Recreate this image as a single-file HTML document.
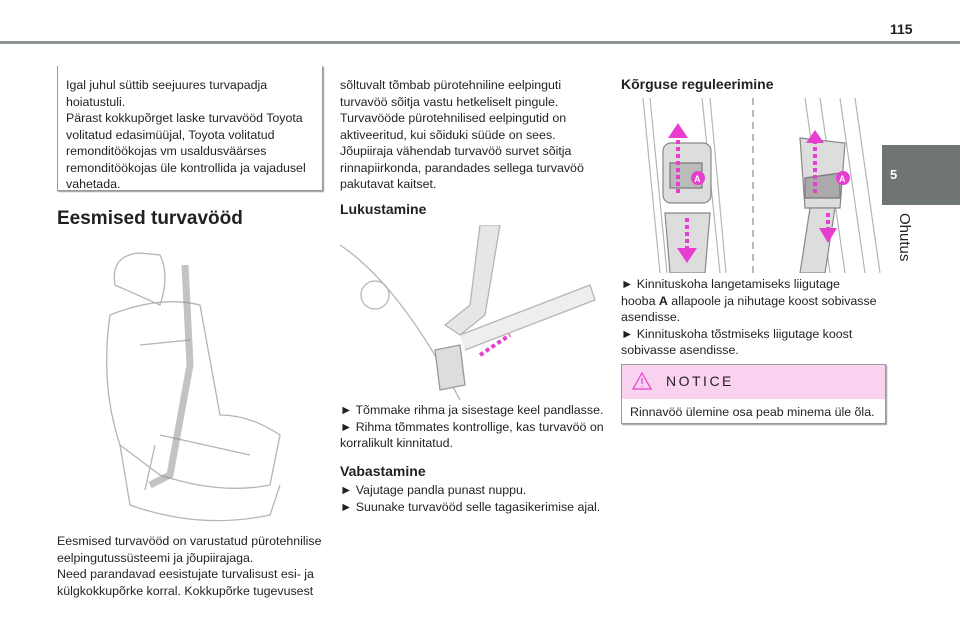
<!DOCTYPE html>
<html><head><meta charset="utf-8"><style>
body{margin:0;width:960px;height:640px;background:#fff;position:relative;overflow:hidden;font-family:"Liberation Sans",sans-serif;color:#231f20}
.a{position:absolute}
.t{font-size:12.4px;line-height:16.5px}
h2{margin:0;font-size:19px;font-weight:bold;position:absolute}
h3{margin:0;font-size:14px;font-weight:bold;position:absolute}
</style></head><body>
<div class="a" style="left:0;top:41px;width:960px;height:3px;background:#8d9493"></div>
<div class="a" style="left:890px;top:21px;font-size:14px;font-weight:bold">115</div>
<div class="a" style="left:882px;top:145px;width:78px;height:60px;background:#6f7573;color:#fff;font-size:13px;font-weight:bold"><span style="position:absolute;left:8px;top:22px">5</span></div>
<div class="a" style="left:896px;top:213px;font-size:15px;writing-mode:vertical-rl;color:#231f20">Ohutus</div>

<div class="a" style="left:57px;top:66px;width:264px;height:124px;border:1px solid #9a9a9a;border-top:none;box-shadow:1px 1px 1px #999"></div>
<div class="a t" style="left:66px;top:77px;width:250px">Igal juhul süttib seejuures turvapadja hoiatustuli.<br>Pärast kokkupõrget laske turvavööd Toyota volitatud edasimüüjal, Toyota volitatud remonditöökojas vm usaldusväärses remonditöökojas üle kontrollida ja vajadusel vahetada.</div>
<h2 style="left:57px;top:208px">Eesmised turvavööd</h2>
<svg class="a" style="left:100px;top:245px" width="200" height="285" fill="none" stroke="#b5b5b5" stroke-width="1.3">
<path d="M15 40 Q10 10 40 8 L60 10 Q70 30 60 60 Z"/><path d="M10 70 Q0 140 20 200 L60 230 Q120 250 170 240 L180 190 Q150 170 120 170 L100 60 Q60 50 10 70Z"/><path d="M20 200 L30 260 Q100 285 170 270 L180 240"/><path d="M40 100 L90 95"/><path d="M60 190 L150 210"/>
<path d="M85 20 L90 120 L70 230 L50 240" stroke="#888" stroke-width="7" opacity=".5"/><path d="M55 200 L45 245"/>
</svg>
<div class="a t" style="left:57px;top:533px;width:265px">Eesmised turvavööd on varustatud pürotehnilise eelpingutussüsteemi ja jõupiirajaga.<br>Need parandavad eesistujate turvalisust esi- ja külgkokkupõrke korral. Kokkupõrke tugevusest</div>

<div class="a t" style="left:340px;top:77px;width:260px">sõltuvalt tõmbab pürotehniline eelpinguti turvavöö sõitja vastu hetkeliselt pingule.<br>Turvavööde pürotehnilised eelpingutid on aktiveeritud, kui sõiduki süüde on sees.<br>Jõupiiraja vähendab turvavöö survet sõitja rinnapiirkonda, parandades sellega turvavöö pakutavat kaitset.</div>
<h3 style="left:340px;top:201px">Lukustamine</h3>
<svg class="a" style="left:340px;top:225px" width="262" height="175" fill="none" stroke="#b5b5b5" stroke-width="1.3">
<circle cx="35" cy="70" r="14"/><path d="M0 20 Q60 60 120 175"/><path d="M140 0 L160 0 L145 90 L120 110 L105 100 L130 80 Z" fill="#e6e6e6"/>
<path d="M120 110 L250 60 L255 75 L125 125" fill="#eee"/><path d="M95 125 L120 120 L125 160 L100 165 Z" fill="#ddd" stroke="#999"/>
<path d="M140 130 L170 110" stroke="#e83ecf" stroke-width="4" stroke-dasharray="4 3"/>
</svg>
<div class="a t" style="left:340px;top:402px;width:265px">► Tõmmake rihma ja sisestage keel pandlasse.<br>► Rihma tõmmates kontrollige, kas turvavöö on korralikult kinnitatud.</div>
<h3 style="left:340px;top:463px">Vabastamine</h3>
<div class="a t" style="left:340px;top:482px;width:265px">► Vajutage pandla punast nuppu.<br>► Suunake turvavööd selle tagasikerimise ajal.</div>

<h3 style="left:621px;top:76px">Kõrguse reguleerimine</h3>
<svg class="a" style="left:640px;top:98px" width="245" height="175" fill="none" stroke="#b5b5b5" stroke-width="1.2">
<path d="M3 0 L20 175 M10 0 L27 175 M62 0 L80 175 M70 0 L86 175 M165 0 L190 175 M180 0 L205 175 M200 0 L225 175 M215 0 L240 175"/>
<path d="M113 0 V175" stroke="#888" stroke-dasharray="7 5"/>
<rect x="23" y="45" width="48" height="60" rx="8" fill="#ddd" stroke="#888"/><rect x="30" y="65" width="32" height="25" fill="#bbb" stroke="#777"/>
<path d="M25 115 L70 115 L65 175 L30 175Z" fill="#ddd" stroke="#888"/>
<path d="M160 40 L205 45 L200 110 L165 110Z" fill="#ddd" stroke="#888"/><path d="M165 80 L200 75 L200 100 L165 100Z" fill="#aaa" stroke="#777"/>
<path d="M170 110 L195 110 L185 175 L160 175Z" fill="#ddd" stroke="#888"/>
<g stroke="#e83ecf" stroke-width="4" stroke-dasharray="4 3"><path d="M38 95 V40"/><path d="M47 120 V150"/><path d="M175 95 V45"/><path d="M188 115 V130"/></g>
<g fill="#e83ecf" stroke="none"><path d="M28 40 L38 25 L48 40Z"/><path d="M37 150 L47 165 L57 150Z"/><path d="M166 45 L175 32 L184 45Z"/><path d="M179 130 L188 145 L197 130Z"/>
<circle cx="58" cy="80" r="7"/><circle cx="203" cy="80" r="7"/></g>
<g fill="#fff" font-size="9" font-weight="bold" stroke="none"><text x="54" y="84">A</text><text x="199" y="84">A</text></g>
</svg>
<div class="a t" style="left:621px;top:276px;width:290px">► Kinnituskoha langetamiseks liigutage<br>hooba <b>A</b> allapoole ja nihutage koost sobivasse<br>asendisse.<br>► Kinnituskoha tõstmiseks liigutage koost<br>sobivasse asendisse.</div>
<div class="a" style="left:621px;top:364px;width:263px;height:58px;border:1px solid #9a9a9a;box-shadow:1px 1px 1px #999">
<div style="height:34px;background:#f9d2ef"></div>
<svg class="a" style="left:10px;top:6px" width="20" height="20"><path d="M10 2 L19 18 L1 18Z" fill="none" stroke="#e83ecf" stroke-width="1.2"/><path d="M10 7V13M10 15V16" stroke="#e83ecf" stroke-width="1.2"/></svg>
<div class="a" style="left:44px;top:8px;font-size:14px;letter-spacing:2.5px">NOTICE</div>
<div class="a t" style="left:8px;top:39px">Rinnavöö ülemine osa peab minema üle õla.</div>
</div>
</body></html>
